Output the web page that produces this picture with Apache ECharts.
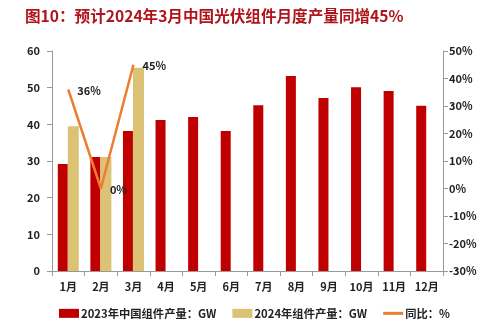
<!DOCTYPE html>
<html><head><meta charset="utf-8">
<script src="https://cdn.jsdelivr.net/npm/echarts@6/dist/echarts.min.js"></script>
<style>html,body{margin:0;padding:0;background:#fff}#c{width:489px;height:329px}</style>
</head><body><div id="c"></div>
<script>
const categories = ['1月','2月','3月','4月','5月','6月','7月','8月','9月','10月','11月','12月'];
const prod2023 = [29.2, 31.1, 38.2, 41.2, 42, 38.2, 45.2, 53.2, 47.2, 50.1, 49.1, 45.1];
const prod2024 = [39.5, 31.1, 55.4, '-', '-', '-', '-', '-', '-', '-', '-', '-'];
const yoy = [36, 0, 45, '-', '-', '-', '-', '-', '-', '-', '-', '-'];
const leftTicks = [0, 60, 10];
const rightTicks = [-30, 50, 10];

const chart = echarts.init(document.getElementById('c'));
const axisFont = {fontFamily:'Noto Sans CJK SC', fontWeight:'bold', fontSize:11, color:'#222'};
chart.setOption({
  animation:false,
  title:{text:'图10：预计2024年3月中国光伏组件月度产量同增45%', left:20, top:3,
    textStyle:{fontFamily:'Noto Sans CJK SC', fontWeight:'bold', fontSize:15.6, color:'#B0141B'}},
  grid:{left:52, right:46, top:51, bottom:58},
  legend:{bottom:5, left:54, itemGap:16, itemWidth:20, itemHeight:9, symbolKeepAspect:true,
    textStyle:{fontFamily:'Noto Sans CJK SC', fontWeight:'bold', fontSize:11.3, color:'#222', padding:[0,0,0,-3]},
    data:[{name:'2023年中国组件产量：GW', icon:'rect'},{name:'2024年组件产量：GW', icon:'rect'},
          {name:'同比：%', icon:'path://M0,0H20V3H0Z'}]},
  xAxis:{type:'category', data:categories,
    axisLine:{lineStyle:{color:'#999'}}, axisTick:{show:true, length:5, lineStyle:{color:'#999'}},
    axisLabel:Object.assign({margin:10}, axisFont)},
  yAxis:[
    {type:'value', min:leftTicks[0], max:leftTicks[1], interval:leftTicks[2], position:'left',
     axisLine:{show:true, lineStyle:{color:'#999'}}, axisTick:{show:true, length:5, lineStyle:{color:'#999'}},
     splitLine:{show:false}, axisLabel:Object.assign({margin:12}, axisFont)},
    {type:'value', min:rightTicks[0], max:rightTicks[1], interval:rightTicks[2], position:'right',
     axisLine:{show:true, lineStyle:{color:'#999'}}, axisTick:{show:true, length:5, lineStyle:{color:'#999'}},
     splitLine:{show:false}, axisLabel:Object.assign({margin:6, formatter:'{value}%'}, axisFont)}
  ],
  series:[
    {name:'2023年中国组件产量：GW', type:'bar', data:prod2023, barWidth:10, barGap:'0%',
     itemStyle:{color:'#C00000'}},
    {name:'2024年组件产量：GW', type:'bar', data:prod2024, barWidth:11, barGap:'0%',
     itemStyle:{color:'#DBC275'}},
    {name:'同比：%', type:'line', yAxisIndex:1, data:yoy, symbol:'circle', symbolSize:0, showSymbol:true,
     lineStyle:{color:'#ED7D31', width:2.5}, itemStyle:{color:'#ED7D31'},
     label:{show:true, position:'right', formatter:'{c}%', offset:[4,1],
       fontFamily:'Noto Sans CJK SC', fontWeight:'bold', fontSize:11, color:'#222'}}
  ]
});
</script></body></html>
